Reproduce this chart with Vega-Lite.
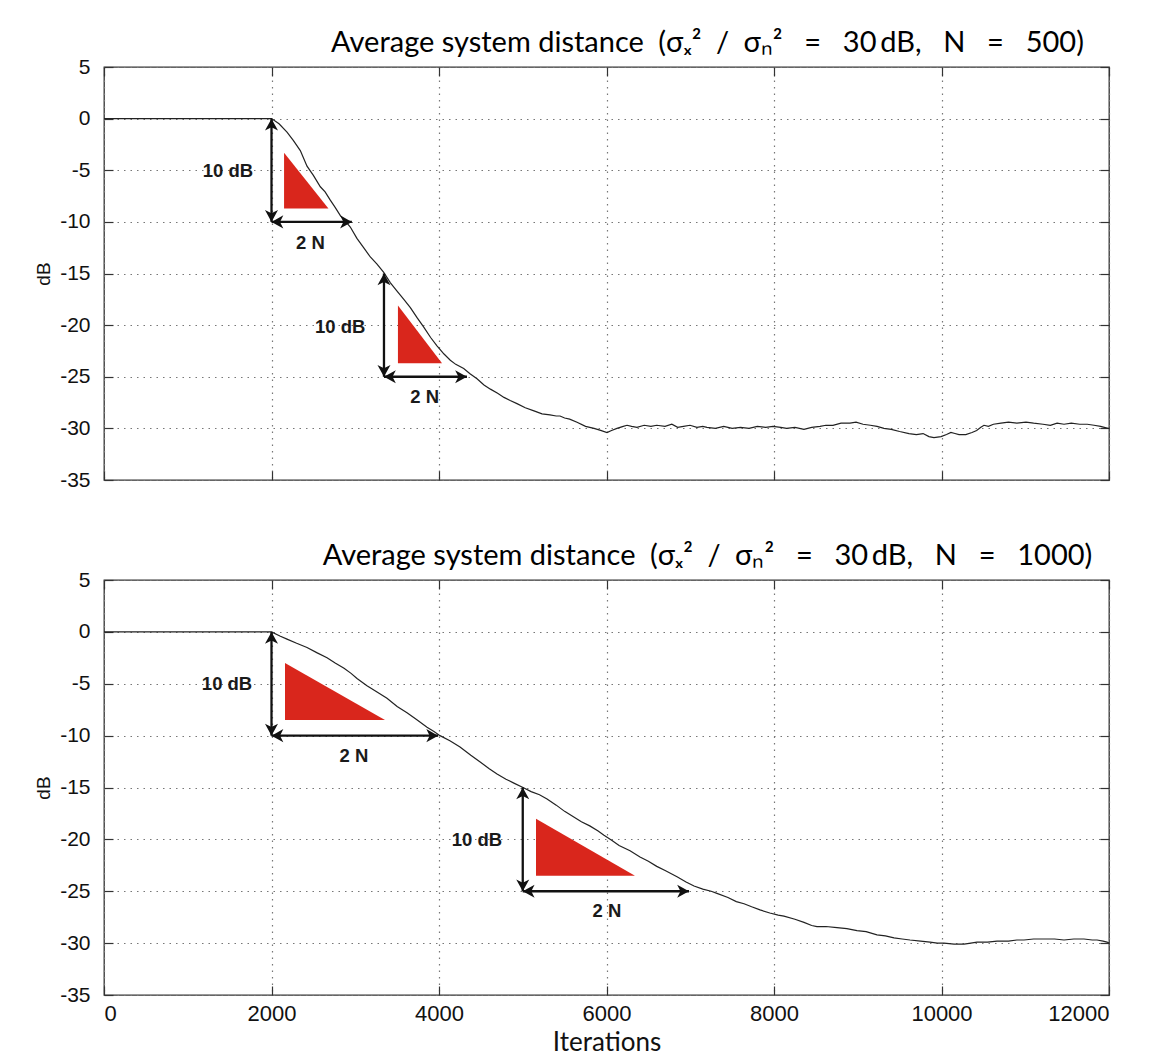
{
  "$schema": "https://vega.github.io/schema/vega-lite/v6.json",
  "background": "white",
  "padding": {"left": 33, "top": 28, "right": 20, "bottom": 0},
  "spacing": 50,
  "config": {
    "view": {"stroke": "#333", "strokeWidth": 1.3},
    "title": {"font": "Lato", "fontSize": 29, "fontWeight": "normal", "color": "#000", "anchor": "middle", "dx": 101, "offset": -2},
    "axis": {"labelFont": "Liberation Sans", "labelColor": "#111", "titleFont": "Liberation Sans", "titleFontWeight": "normal", "titleColor": "#111"}
  },
  "datasets": {
    "c500": [
      {"it": 0, "db": 0}, {"it": 2000, "db": 0}, {"it": 2090, "db": -0.5}, {"it": 2185, "db": -1.3}, {"it": 2260, "db": -2.1}, {"it": 2344, "db": -3.1}, {"it": 2424, "db": -4.6}, {"it": 2500, "db": -5.5}, {"it": 2583, "db": -6.6}, {"it": 2640, "db": -7.1}, {"it": 2702, "db": -7.9}, {"it": 2760, "db": -8.6}, {"it": 2822, "db": -9.4}, {"it": 2880, "db": -9.9}, {"it": 2941, "db": -10.5}, {"it": 3020, "db": -11.6}, {"it": 3100, "db": -12.5}, {"it": 3180, "db": -13.4}, {"it": 3260, "db": -14.1}, {"it": 3340, "db": -14.9}, {"it": 3420, "db": -15.9}, {"it": 3499, "db": -16.7}, {"it": 3580, "db": -17.5}, {"it": 3658, "db": -18.3}, {"it": 3740, "db": -19.3}, {"it": 3818, "db": -20.2}, {"it": 3900, "db": -21.2}, {"it": 3976, "db": -22.0}, {"it": 4060, "db": -22.8}, {"it": 4135, "db": -23.4}, {"it": 4200, "db": -23.8}, {"it": 4295, "db": -24.2}, {"it": 4370, "db": -24.7}, {"it": 4454, "db": -25.2}, {"it": 4537, "db": -25.8}, {"it": 4614, "db": -26.2}, {"it": 4700, "db": -26.6}, {"it": 4776, "db": -27.0}, {"it": 4850, "db": -27.3}, {"it": 4931, "db": -27.6}, {"it": 5030, "db": -28.0}, {"it": 5134, "db": -28.3}, {"it": 5230, "db": -28.6}, {"it": 5325, "db": -28.7}, {"it": 5400, "db": -28.8}, {"it": 5445, "db": -28.8}, {"it": 5500, "db": -29.0}, {"it": 5560, "db": -29.1}, {"it": 5648, "db": -29.4}, {"it": 5750, "db": -29.8}, {"it": 5851, "db": -30.0}, {"it": 5930, "db": -30.2}, {"it": 6006, "db": -30.4}, {"it": 6060, "db": -30.2}, {"it": 6125, "db": -30.0}, {"it": 6200, "db": -29.8}, {"it": 6245, "db": -29.7}, {"it": 6300, "db": -29.8}, {"it": 6364, "db": -29.9}, {"it": 6450, "db": -29.7}, {"it": 6530, "db": -29.8}, {"it": 6600, "db": -29.7}, {"it": 6699, "db": -29.8}, {"it": 6780, "db": -29.6}, {"it": 6850, "db": -29.9}, {"it": 6920, "db": -29.8}, {"it": 6997, "db": -29.7}, {"it": 7080, "db": -29.9}, {"it": 7150, "db": -29.8}, {"it": 7200, "db": -29.9}, {"it": 7300, "db": -30.0}, {"it": 7400, "db": -29.8}, {"it": 7500, "db": -30.0}, {"it": 7600, "db": -29.9}, {"it": 7702, "db": -30.0}, {"it": 7800, "db": -29.8}, {"it": 7900, "db": -29.9}, {"it": 7988, "db": -29.8}, {"it": 8080, "db": -29.9}, {"it": 8150, "db": -30.0}, {"it": 8250, "db": -29.9}, {"it": 8358, "db": -30.1}, {"it": 8450, "db": -29.9}, {"it": 8550, "db": -29.8}, {"it": 8620, "db": -29.7}, {"it": 8704, "db": -29.7}, {"it": 8800, "db": -29.5}, {"it": 8907, "db": -29.5}, {"it": 8980, "db": -29.4}, {"it": 9063, "db": -29.6}, {"it": 9150, "db": -29.7}, {"it": 9230, "db": -29.8}, {"it": 9313, "db": -30.0}, {"it": 9400, "db": -30.1}, {"it": 9500, "db": -30.3}, {"it": 9612, "db": -30.5}, {"it": 9700, "db": -30.6}, {"it": 9780, "db": -30.5}, {"it": 9850, "db": -30.8}, {"it": 9910, "db": -30.9}, {"it": 9994, "db": -30.8}, {"it": 10060, "db": -30.6}, {"it": 10113, "db": -30.4}, {"it": 10160, "db": -30.5}, {"it": 10209, "db": -30.6}, {"it": 10290, "db": -30.6}, {"it": 10364, "db": -30.4}, {"it": 10420, "db": -30.2}, {"it": 10470, "db": -29.9}, {"it": 10507, "db": -29.7}, {"it": 10560, "db": -29.8}, {"it": 10620, "db": -29.6}, {"it": 10710, "db": -29.5}, {"it": 10800, "db": -29.4}, {"it": 10900, "db": -29.5}, {"it": 11009, "db": -29.4}, {"it": 11100, "db": -29.5}, {"it": 11212, "db": -29.6}, {"it": 11300, "db": -29.7}, {"it": 11380, "db": -29.5}, {"it": 11463, "db": -29.6}, {"it": 11550, "db": -29.5}, {"it": 11650, "db": -29.6}, {"it": 11740, "db": -29.6}, {"it": 11821, "db": -29.7}, {"it": 11900, "db": -29.8}, {"it": 11988, "db": -30.0}, {"it": 12000, "db": -30.0}
    ],
    "c1000": [
      {"it": 0, "db": 0}, {"it": 2000, "db": 0}, {"it": 2100, "db": -0.4}, {"it": 2185, "db": -0.7}, {"it": 2300, "db": -1.1}, {"it": 2424, "db": -1.5}, {"it": 2540, "db": -2.0}, {"it": 2663, "db": -2.5}, {"it": 2760, "db": -3.0}, {"it": 2866, "db": -3.5}, {"it": 2950, "db": -4.0}, {"it": 3021, "db": -4.5}, {"it": 3140, "db": -5.2}, {"it": 3260, "db": -5.8}, {"it": 3379, "db": -6.4}, {"it": 3500, "db": -7.2}, {"it": 3618, "db": -7.8}, {"it": 3740, "db": -8.5}, {"it": 3857, "db": -9.2}, {"it": 3940, "db": -9.6}, {"it": 4012, "db": -10.0}, {"it": 4130, "db": -10.5}, {"it": 4251, "db": -11.1}, {"it": 4380, "db": -11.9}, {"it": 4500, "db": -12.6}, {"it": 4600, "db": -13.2}, {"it": 4693, "db": -13.7}, {"it": 4800, "db": -14.2}, {"it": 4900, "db": -14.6}, {"it": 5003, "db": -15.0}, {"it": 5100, "db": -15.4}, {"it": 5200, "db": -15.7}, {"it": 5290, "db": -16.1}, {"it": 5400, "db": -16.7}, {"it": 5500, "db": -17.3}, {"it": 5600, "db": -17.8}, {"it": 5700, "db": -18.3}, {"it": 5800, "db": -18.7}, {"it": 5900, "db": -19.2}, {"it": 5970, "db": -19.6}, {"it": 6066, "db": -20.1}, {"it": 6150, "db": -20.6}, {"it": 6281, "db": -21.1}, {"it": 6400, "db": -21.7}, {"it": 6500, "db": -22.1}, {"it": 6600, "db": -22.6}, {"it": 6700, "db": -23.0}, {"it": 6842, "db": -23.6}, {"it": 6950, "db": -24.1}, {"it": 7045, "db": -24.5}, {"it": 7150, "db": -24.8}, {"it": 7250, "db": -25.0}, {"it": 7319, "db": -25.2}, {"it": 7450, "db": -25.6}, {"it": 7550, "db": -26.0}, {"it": 7642, "db": -26.2}, {"it": 7733, "db": -26.5}, {"it": 7833, "db": -26.8}, {"it": 7950, "db": -27.1}, {"it": 8050, "db": -27.3}, {"it": 8119, "db": -27.4}, {"it": 8250, "db": -27.7}, {"it": 8358, "db": -28.0}, {"it": 8450, "db": -28.3}, {"it": 8513, "db": -28.4}, {"it": 8620, "db": -28.4}, {"it": 8752, "db": -28.5}, {"it": 8870, "db": -28.6}, {"it": 8991, "db": -28.8}, {"it": 9100, "db": -28.9}, {"it": 9230, "db": -29.2}, {"it": 9330, "db": -29.3}, {"it": 9433, "db": -29.5}, {"it": 9530, "db": -29.6}, {"it": 9624, "db": -29.7}, {"it": 9750, "db": -29.8}, {"it": 9863, "db": -29.9}, {"it": 9950, "db": -30.0}, {"it": 10030, "db": -30.0}, {"it": 10150, "db": -30.1}, {"it": 10269, "db": -30.1}, {"it": 10350, "db": -30.0}, {"it": 10424, "db": -29.9}, {"it": 10550, "db": -29.9}, {"it": 10663, "db": -29.8}, {"it": 10800, "db": -29.8}, {"it": 10900, "db": -29.7}, {"it": 10985, "db": -29.7}, {"it": 11100, "db": -29.6}, {"it": 11224, "db": -29.6}, {"it": 11350, "db": -29.6}, {"it": 11463, "db": -29.7}, {"it": 11580, "db": -29.6}, {"it": 11701, "db": -29.6}, {"it": 11800, "db": -29.7}, {"it": 11857, "db": -29.7}, {"it": 11930, "db": -29.8}, {"it": 11976, "db": -29.9}, {"it": 12000, "db": -30.0}
    ],
    "tri": [
      {"panel": 500, "id": "a", "x": 2150, "y": -3.3, "y2": -8.7}, {"panel": 500, "id": "a", "x": 2680, "y": -8.7, "y2": -8.7},
      {"panel": 500, "id": "b", "x": 3510, "y": -18.1, "y2": -23.7}, {"panel": 500, "id": "b", "x": 4036, "y": -23.7, "y2": -23.7},
      {"panel": 1000, "id": "a", "x": 2161, "y": -3.0, "y2": -8.5}, {"panel": 1000, "id": "a", "x": 3355, "y": -8.5, "y2": -8.5},
      {"panel": 1000, "id": "b", "x": 5158, "y": -18.0, "y2": -23.5}, {"panel": 1000, "id": "b", "x": 6340, "y": -23.5, "y2": -23.5}
    ],
    "arrows": [
      {"panel": 500, "x": 2000, "x2": 2000, "y": 0, "y2": -10}, {"panel": 500, "x": 2000, "x2": 2960, "y": -10, "y2": -10},
      {"panel": 500, "x": 3343, "x2": 3343, "y": -15, "y2": -25}, {"panel": 500, "x": 3343, "x2": 4334, "y": -25, "y2": -25},
      {"panel": 1000, "x": 2000, "x2": 2000, "y": 0, "y2": -10}, {"panel": 1000, "x": 2000, "x2": 3990, "y": -10, "y2": -10},
      {"panel": 1000, "x": 5000, "x2": 5000, "y": -15, "y2": -25}, {"panel": 1000, "x": 5000, "x2": 6985, "y": -25, "y2": -25}
    ],
    "heads": [
      {"panel": 500, "x": 2000, "y": 0, "dir": "up"}, {"panel": 500, "x": 2000, "y": -10, "dir": "down"}, {"panel": 500, "x": 2000, "y": -10, "dir": "left"}, {"panel": 500, "x": 2960, "y": -10, "dir": "right"},
      {"panel": 500, "x": 3343, "y": -15, "dir": "up"}, {"panel": 500, "x": 3343, "y": -25, "dir": "down"}, {"panel": 500, "x": 3343, "y": -25, "dir": "left"}, {"panel": 500, "x": 4334, "y": -25, "dir": "right"},
      {"panel": 1000, "x": 2000, "y": 0, "dir": "up"}, {"panel": 1000, "x": 2000, "y": -10, "dir": "down"}, {"panel": 1000, "x": 2000, "y": -10, "dir": "left"}, {"panel": 1000, "x": 3990, "y": -10, "dir": "right"},
      {"panel": 1000, "x": 5000, "y": -15, "dir": "up"}, {"panel": 1000, "x": 5000, "y": -25, "dir": "down"}, {"panel": 1000, "x": 5000, "y": -25, "dir": "left"}, {"panel": 1000, "x": 6985, "y": -25, "dir": "right"}
    ],
    "labels": [
      {"panel": 500, "x": 1480, "y": -5.1, "text": "10 dB"}, {"panel": 500, "x": 2465, "y": -12.0, "text": "2 N"},
      {"panel": 500, "x": 2820, "y": -20.2, "text": "10 dB"}, {"panel": 500, "x": 3830, "y": -27.0, "text": "2 N"},
      {"panel": 1000, "x": 1469, "y": -5.0, "text": "10 dB"}, {"panel": 1000, "x": 2985, "y": -11.95, "text": "2 N"},
      {"panel": 1000, "x": 4454, "y": -20.1, "text": "10 dB"}, {"panel": 1000, "x": 6006, "y": -26.9, "text": "2 N"}
    ]
  },
  "vconcat": [
    {
      "width": 1005,
      "height": 413,
      "title": {"text": "Average system distance\u2002(\u03c3\u2093\u00b2\u2002/\u2002\u03c3\u2099\u00b2\u2003=\u200330\u2009dB,\u2003N\u2003=\u2003500)"},
      "resolve": {"axis": {"x": "independent", "y": "independent"}},
      "layer": [
        {
          "data": {"name": "c500"},
          "mark": {"type": "line", "color": "#222", "strokeWidth": 1.2},
          "encoding": {
            "x": {"field": "it", "type": "quantitative", "scale": {"domain": [0, 12000], "nice": false},
                  "axis": {"orient": "bottom", "values": [0, 2000, 4000, 6000, 8000, 10000, 12000], "labels": false, "title": null, "domain": false, "grid": true, "gridDash": [1.5, 5], "gridColor": "#777", "gridWidth": 1.2, "tickSize": -9, "tickColor": "#333", "tickWidth": 1.2}},
            "y": {"field": "db", "type": "quantitative", "scale": {"domain": [-35, 5], "nice": false},
                  "axis": {"orient": "left", "values": [-35, -30, -25, -20, -15, -10, -5, 0, 5], "labelExpr": "'' + datum.value", "title": "dB", "titleFontSize": 19, "titlePadding": 6, "labelFontSize": 21, "labelPadding": 23, "domain": false, "grid": true, "gridDash": [1.5, 5], "gridColor": "#777", "gridWidth": 1.2, "tickSize": -9, "tickColor": "#333", "tickWidth": 1.2}}
          }
        },
        {
          "data": {"name": "tri"},
          "transform": [{"filter": "datum.panel == 500"}],
          "mark": {"type": "area", "color": "#d9261c", "opacity": 1},
          "encoding": {
            "x": {"field": "x", "type": "quantitative", "axis": {"orient": "top", "values": [0, 2000, 4000, 6000, 8000, 10000, 12000], "labels": false, "title": null, "domain": false, "grid": false, "tickSize": -9, "tickColor": "#333", "tickWidth": 1.2}},
            "y": {"field": "y", "type": "quantitative", "axis": {"orient": "right", "values": [-35, -30, -25, -20, -15, -10, -5, 0, 5], "labels": false, "title": null, "domain": false, "grid": false, "tickSize": -9, "tickColor": "#333", "tickWidth": 1.2}},
            "y2": {"field": "y2"},
            "detail": {"field": "id"}
          }
        },
        {
          "data": {"name": "arrows"},
          "transform": [{"filter": "datum.panel == 500"}],
          "mark": {"type": "rule", "color": "#111", "strokeWidth": 2.3},
          "encoding": {
            "x": {"field": "x", "type": "quantitative", "axis": null},
            "x2": {"field": "x2"},
            "y": {"field": "y", "type": "quantitative", "axis": null},
            "y2": {"field": "y2"}
          }
        },
        {
          "data": {"name": "heads"},
          "transform": [{"filter": "datum.panel == 500"}],
          "mark": {"type": "point", "filled": true, "color": "#111", "opacity": 1, "size": 560, "strokeWidth": 0},
          "encoding": {
            "x": {"field": "x", "type": "quantitative", "axis": null},
            "y": {"field": "y", "type": "quantitative", "axis": null},
            "shape": {"field": "dir", "type": "nominal", "legend": null,
                      "scale": {"domain": ["up", "down", "left", "right"], "range": ["M0,0L-0.55,1L0,0.72L0.55,1Z", "M0,0L-0.55,-1L0,-0.72L0.55,-1Z", "M0,0L1,-0.55L0.72,0L1,0.55Z", "M0,0L-1,-0.55L-0.72,0L-1,0.55Z"]}}
          }
        },
        {
          "data": {"name": "labels"},
          "transform": [{"filter": "datum.panel == 500"}],
          "mark": {"type": "text", "font": "Liberation Sans", "fontWeight": "bold", "fontSize": 18.5, "color": "#1a1a1a", "align": "center", "baseline": "middle"},
          "encoding": {
            "x": {"field": "x", "type": "quantitative", "axis": null},
            "y": {"field": "y", "type": "quantitative", "axis": null},
            "text": {"field": "text"}
          }
        }
      ]
    },
    {
      "width": 1005,
      "height": 415,
      "title": {"text": "Average system distance\u2002(\u03c3\u2093\u00b2\u2002/\u2002\u03c3\u2099\u00b2\u2003=\u200330\u2009dB,\u2003N\u2003=\u20031000)"},
      "resolve": {"axis": {"x": "independent", "y": "independent"}},
      "layer": [
        {
          "data": {"name": "c1000"},
          "mark": {"type": "line", "color": "#222", "strokeWidth": 1.2},
          "encoding": {
            "x": {"field": "it", "type": "quantitative", "scale": {"domain": [0, 12000], "nice": false},
                  "axis": {"orient": "bottom", "values": [0, 2000, 4000, 6000, 8000, 10000, 12000], "format": "d", "labels": true, "labelFont": "Liberation Sans Narrow, Arial Narrow, Liberation Sans", "labelFontSize": 22, "labelPadding": 17, "title": "Iterations", "titleFont": "Lato", "titleFontSize": 26, "titlePadding": 5, "domain": false, "grid": true, "gridDash": [1.5, 5], "gridColor": "#777", "gridWidth": 1.2, "tickSize": -9, "tickColor": "#333", "tickWidth": 1.2}},
            "y": {"field": "db", "type": "quantitative", "scale": {"domain": [-35, 5], "nice": false},
                  "axis": {"orient": "left", "values": [-35, -30, -25, -20, -15, -10, -5, 0, 5], "labelExpr": "'' + datum.value", "title": "dB", "titleFontSize": 19, "titlePadding": 6, "labelFontSize": 21, "labelPadding": 23, "domain": false, "grid": true, "gridDash": [1.5, 5], "gridColor": "#777", "gridWidth": 1.2, "tickSize": -9, "tickColor": "#333", "tickWidth": 1.2}}
          }
        },
        {
          "data": {"name": "tri"},
          "transform": [{"filter": "datum.panel == 1000"}],
          "mark": {"type": "area", "color": "#d9261c", "opacity": 1},
          "encoding": {
            "x": {"field": "x", "type": "quantitative", "axis": {"orient": "top", "values": [0, 2000, 4000, 6000, 8000, 10000, 12000], "labels": false, "title": null, "domain": false, "grid": false, "tickSize": -9, "tickColor": "#333", "tickWidth": 1.2}},
            "y": {"field": "y", "type": "quantitative", "axis": {"orient": "right", "values": [-35, -30, -25, -20, -15, -10, -5, 0, 5], "labels": false, "title": null, "domain": false, "grid": false, "tickSize": -9, "tickColor": "#333", "tickWidth": 1.2}},
            "y2": {"field": "y2"},
            "detail": {"field": "id"}
          }
        },
        {
          "data": {"name": "arrows"},
          "transform": [{"filter": "datum.panel == 1000"}],
          "mark": {"type": "rule", "color": "#111", "strokeWidth": 2.3},
          "encoding": {
            "x": {"field": "x", "type": "quantitative", "axis": null},
            "x2": {"field": "x2"},
            "y": {"field": "y", "type": "quantitative", "axis": null},
            "y2": {"field": "y2"}
          }
        },
        {
          "data": {"name": "heads"},
          "transform": [{"filter": "datum.panel == 1000"}],
          "mark": {"type": "point", "filled": true, "color": "#111", "opacity": 1, "size": 560, "strokeWidth": 0},
          "encoding": {
            "x": {"field": "x", "type": "quantitative", "axis": null},
            "y": {"field": "y", "type": "quantitative", "axis": null},
            "shape": {"field": "dir", "type": "nominal", "legend": null,
                      "scale": {"domain": ["up", "down", "left", "right"], "range": ["M0,0L-0.55,1L0,0.72L0.55,1Z", "M0,0L-0.55,-1L0,-0.72L0.55,-1Z", "M0,0L1,-0.55L0.72,0L1,0.55Z", "M0,0L-1,-0.55L-0.72,0L-1,0.55Z"]}}
          }
        },
        {
          "data": {"name": "labels"},
          "transform": [{"filter": "datum.panel == 1000"}],
          "mark": {"type": "text", "font": "Liberation Sans", "fontWeight": "bold", "fontSize": 18.5, "color": "#1a1a1a", "align": "center", "baseline": "middle"},
          "encoding": {
            "x": {"field": "x", "type": "quantitative", "axis": null},
            "y": {"field": "y", "type": "quantitative", "axis": null},
            "text": {"field": "text"}
          }
        }
      ]
    }
  ]
}
